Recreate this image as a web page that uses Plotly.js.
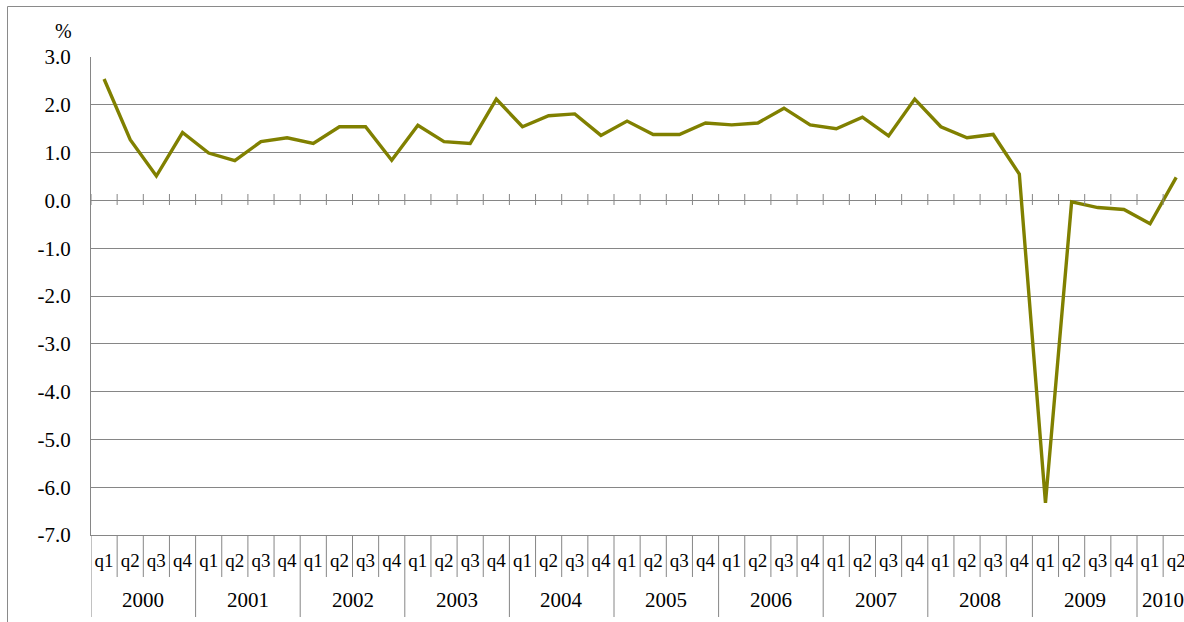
<!DOCTYPE html>
<html>
<head>
<meta charset="utf-8">
<script src="https://cdn.plot.ly/plotly-3.0.1.min.js"></script>
<style>
html,body{margin:0;padding:0;background:#fff;overflow:hidden;}
#chart{width:1184px;height:622px;}
</style>
</head>
<body>
<div id="chart"></div>
<script>
// ---- data ----
var years = ['2000','2001','2002','2003','2004','2005','2006','2007','2008','2009','2010'];
var quartersPerYear = [4,4,4,4,4,4,4,4,4,4,2];
var quarterNames = ['q1','q2','q3','q4'];
var growth = [
  2.54, 1.27, 0.51, 1.42,
  0.99, 0.83, 1.23, 1.31,
  1.19, 1.54, 1.54, 0.84,
  1.57, 1.23, 1.19, 2.12,
  1.54, 1.77, 1.81, 1.36,
  1.66, 1.38, 1.38, 1.62,
  1.58, 1.62, 1.93, 1.58,
  1.50, 1.74, 1.35, 2.12,
  1.54, 1.31, 1.38, 0.55,
  -6.33, -0.03, -0.15, -0.19,
  -0.49, 0.48
];
var yTickVals = [3,2,1,0,-1,-2,-3,-4,-5,-6,-7];
var yTickText = yTickVals.map(function(v){ return v.toFixed(1); });

// ---- derived category positions ----
var quarterLabels = [], idx = [], yearCenters = [], yearStarts = [];
var k = 0;
years.forEach(function(yr, yi){
  yearStarts.push(k);
  var n = quartersPerYear[yi];
  for (var q = 0; q < n; q++){ quarterLabels.push(quarterNames[q]); idx.push(k); k++; }
  yearCenters.push(k - 1 - (n - 1) / 2);
});

var serif = 'Liberation Serif, Times New Roman, serif';
var gridCol = '#868686';
var plotTop = 57, plotBottom = 535, plotH = plotBottom - plotTop;
var plotLeft = 91, plotW = 1184 - plotLeft;
var catW = 26.15;
var xMax = -0.5 + plotW / catW;

function pyPaper(px){ return (plotBottom - px) / plotH; }
function pxPaper(px){ return (px - plotLeft) / plotW; }

var shapes = [];
// outer chart frame
shapes.push({type:'rect', xref:'paper', yref:'paper', x0:pxPaper(7.5), x1:1.05, y0:pyPaper(640), y1:pyPaper(6.5),
  line:{color:'#8a8a8a', width:1}, fillcolor:'rgba(0,0,0,0)', layer:'below'});
// category separators in label area, and cross ticks on zero line
for (var b = 0; b <= idx.length; b++){
  var xb = b - 0.5;
  var isYear = yearStarts.indexOf(b) >= 0;
  shapes.push({type:'line', xref:'x', yref:'paper', x0:xb, x1:xb, y0:0, y1:pyPaper(isYear ? 617 : 577),
    line:{color:gridCol, width:1}});
  shapes.push({type:'line', xref:'x', yref:'paper', x0:xb, x1:xb, y0:pyPaper(205), y1:pyPaper(194),
    line:{color:gridCol, width:1}});
}

var annotations = [];
years.forEach(function(yr, yi){
  annotations.push({xref:'x', yref:'paper', x:yearCenters[yi], y:pyPaper(600), text:yr, showarrow:false,
    xanchor:'center', yanchor:'middle', font:{family:serif, size:21, color:'#000'}});
});
annotations.push({xref:'paper', yref:'paper', x:pxPaper(63), y:pyPaper(31), text:'%', showarrow:false,
  xanchor:'center', yanchor:'middle', font:{family:serif, size:20, color:'#000'}});

var trace = {
  x: idx, y: growth, type:'scatter', mode:'lines',
  line:{color:'#808000', width:3.4}, hoverinfo:'skip', cliponaxis:false
};

var layout = {
  width:1184, height:622,
  margin:{l:plotLeft, r:0, t:plotTop, b:622-plotBottom, pad:0},
  paper_bgcolor:'#fff', plot_bgcolor:'#fff',
  showlegend:false,
  font:{family:serif, color:'#000'},
  xaxis:{
    range:[-0.5, xMax], showgrid:false, zeroline:false,
    tickvals: idx, ticktext: quarterLabels, ticks:'', ticklabelstandoff:8,
    ticklabeloverflow:'allow',
    tickfont:{size:19, family:serif, color:'#000'},
    showline:true, linecolor:gridCol, linewidth:1, fixedrange:true
  },
  yaxis:{
    range:[-7,3], tickvals: yTickVals, ticktext: yTickText, ticks:'', ticklabelstandoff:15,
    tickfont:{size:21, family:serif, color:'#000'},
    showgrid:true, gridcolor:gridCol, gridwidth:1,
    zeroline:true, zerolinecolor:gridCol, zerolinewidth:1,
    showline:true, linecolor:gridCol, linewidth:1, mirror:false, fixedrange:true
  },
  shapes: shapes,
  annotations: annotations
};

Plotly.newPlot('chart', [trace], layout, {displayModeBar:false, staticPlot:true});
</script>
</body>
</html>
